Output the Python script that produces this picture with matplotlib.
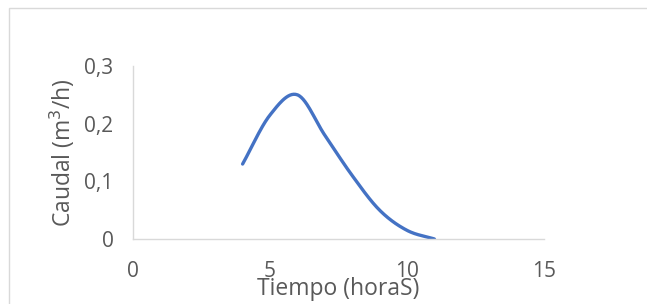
import numpy as np
import matplotlib.pyplot as plt
from matplotlib.patches import Rectangle

# data
tiempo = [4, 5, 6, 7, 8, 9, 10, 11]
caudal = [0.13, 0.215, 0.25, 0.18, 0.11, 0.05, 0.015, 0.0]

x_ticks = [0, 5, 10, 15]
y_ticks = [0, 0.1, 0.2, 0.3]
y_labels = ["0", "0,1", "0,2", "0,3"]

GREY_TXT = "#595959"
GREY_LINE = "#d9d9d9"
BLUE = "#4472C4"

plt.rcParams["font.family"] = ["Open Sans", "DejaVu Sans"]


def smooth(xs, ys, n=30):
    """Catmull-Rom style smoothing, similar to Excel's smoothed line."""
    xs = np.asarray(xs, float)
    ys = np.asarray(ys, float)
    px = np.concatenate([[2 * xs[0] - xs[1]], xs, [2 * xs[-1] - xs[-2]]])
    py = np.concatenate([[2 * ys[0] - ys[1]], ys, [2 * ys[-1] - ys[-2]]])
    out_x, out_y = [], []
    t = np.linspace(0, 1, n)
    for i in range(1, len(px) - 2):
        p0, p1, p2, p3 = [np.array([px[j], py[j]]) for j in range(i - 1, i + 3)]
        c1 = p1 + (p2 - p0) / 6.0
        c2 = p2 - (p3 - p1) / 6.0
        b = ((1 - t) ** 3)[:, None] * p1 + (3 * (1 - t) ** 2 * t)[:, None] * c1 \
            + (3 * (1 - t) * t ** 2)[:, None] * c2 + (t ** 3)[:, None] * p2
        out_x.extend(b[:, 0])
        out_y.extend(b[:, 1])
    return np.array(out_x), np.array(out_y)


fig = plt.figure(figsize=(6.47, 3.04), dpi=100)
fig.patches.append(Rectangle((9 / 647, -0.1), 1.1, (304 - 8) / 304 + 0.1,
                             transform=fig.transFigure, fill=False,
                             edgecolor=GREY_LINE, lw=1.0))

ax = fig.add_axes([133 / 647, 65 / 304, 411 / 647, 173 / 304])
sx, sy = smooth(tiempo, caudal)
ax.plot(sx, sy, color=BLUE, lw=2.4, solid_capstyle="round")

ax.set_xlim(0, 15)
ax.set_ylim(0, 0.3)
ax.set_xticks(x_ticks)
ax.set_yticks(y_ticks)
ax.set_yticklabels(y_labels)
ax.tick_params(length=0, labelsize=15, labelcolor=GREY_TXT)
ax.tick_params(axis="x", pad=16)
ax.tick_params(axis="y", pad=14)
for s in ["top", "right"]:
    ax.spines[s].set_visible(False)
for s in ["left", "bottom"]:
    ax.spines[s].set_color(GREY_LINE)
    ax.spines[s].set_linewidth(1.0)

ax.set_xlabel("Tiempo (horaS)", fontsize=16.5, color=GREY_TXT, labelpad=-4)
ax.set_ylabel("Caudal (m$^3$/h)", fontsize=16.5, color=GREY_TXT, labelpad=5)

fig.savefig("out.png", dpi=100)
